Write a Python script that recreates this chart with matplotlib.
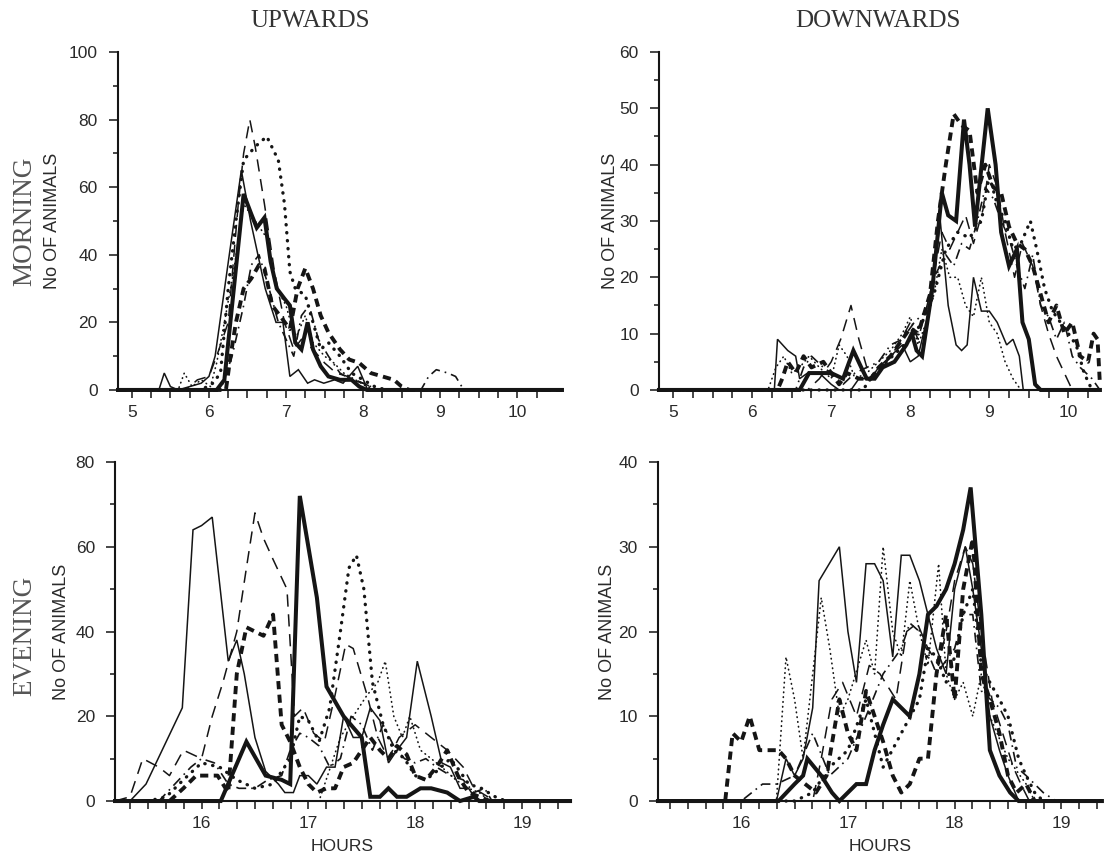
import numpy as np
import matplotlib.pyplot as plt

# values: hour of day, number of animals
# a = thin solid, b = thick solid, c = thin dashed, d = thick dashed,
# e = thick dotted, f = dash-dot, g = thin dotted

# --- upwards, morning
up_am_a_h = [4.82, 5.35, 5.42, 5.5, 5.6, 5.75, 5.9, 6.0, 6.08, 6.27, 6.42, 6.54, 6.73, 6.87, 6.96, 7.05, 7.16, 7.28, 7.37, 7.49, 7.63, 7.74, 7.93, 8.06, 10.58]
up_am_a_n = [0, 0, 5, 1, 0, 1, 2, 4, 10, 41, 65, 50, 30, 20, 20, 4, 6, 2, 3, 2, 3, 2, 7, 0, 0]
up_am_b_h = [4.82, 6.1, 6.2, 6.3, 6.45, 6.55, 6.62, 6.72, 6.8, 6.88, 6.98, 7.05, 7.12, 7.2, 7.28, 7.35, 7.45, 7.55, 7.7, 7.85, 7.95, 8.05, 10.58]
up_am_b_n = [0, 0, 3, 25, 58, 52, 48, 51, 38, 30, 27, 25, 14, 12, 20, 12, 7, 4, 3, 3, 1, 0, 0]
up_am_c_h = [4.82, 5.7, 5.85, 6.0, 6.1, 6.25, 6.38, 6.45, 6.53, 6.6, 6.72, 6.85, 6.98, 7.1, 7.2, 7.35, 7.5, 7.65, 7.8, 8.0, 8.2, 10.58]
up_am_c_n = [0, 0, 3, 4, 10, 20, 55, 70, 80, 72, 55, 35, 20, 12, 15, 12, 8, 5, 4, 2, 0, 0]
up_am_d_h = [4.82, 6.22, 6.28, 6.35, 6.45, 6.55, 6.65, 6.72, 6.82, 6.92, 7.05, 7.15, 7.25, 7.35, 7.45, 7.55, 7.7, 7.82, 7.95, 8.1, 8.25, 8.4, 8.5, 8.6, 10.58]
up_am_d_n = [0, 0, 10, 20, 30, 33, 37, 36, 25, 22, 18, 30, 36, 30, 22, 17, 12, 9, 8, 5, 4, 3, 1, 0, 0]
up_am_e_h = [4.82, 5.9, 6.05, 6.15, 6.25, 6.35, 6.45, 6.6, 6.75, 6.9, 6.98, 7.05, 7.12, 7.25, 7.35, 7.45, 7.55, 7.7, 7.85, 8.0, 8.15, 8.3, 10.58]
up_am_e_n = [0, 0, 2, 5, 30, 50, 68, 72, 75, 68, 55, 35, 30, 28, 20, 12, 14, 10, 5, 3, 1, 0, 0]
up_am_f_h = [4.82, 6.15, 6.3, 6.45, 6.55, 6.65, 6.78, 6.9, 7.0, 7.1, 7.2, 7.3, 7.42, 7.55, 7.7, 7.85, 8.0, 8.2, 8.75, 8.85, 8.95, 9.1, 9.2, 9.28, 9.35, 10.58]
up_am_f_n = [0, 0, 10, 25, 37, 40, 30, 20, 15, 10, 22, 25, 15, 10, 5, 3, 2, 0, 0, 4, 6, 5, 4, 1, 0, 0]
up_am_g_h = [4.82, 5.6, 5.68, 5.78, 5.9, 6.02, 6.1, 6.2, 6.32, 6.45, 6.6, 6.75, 6.88, 7.0, 7.12, 7.25, 7.35, 7.5, 7.62, 7.75, 7.9, 8.05, 8.2, 10.58]
up_am_g_n = [0, 0, 5, 1, 3, 1, 8, 20, 35, 55, 50, 45, 30, 25, 15, 22, 14, 10, 8, 5, 3, 1, 0, 0]

# --- downwards, morning
dn_am_a_h = [4.82, 6.28, 6.32, 6.45, 6.55, 6.6, 6.7, 6.85, 7.0, 7.1, 7.25, 7.35, 7.5, 7.6, 7.75, 7.9, 8.0, 8.1, 8.25, 8.38, 8.48, 8.58, 8.65, 8.72, 8.8, 8.9, 9.0, 9.1, 9.22, 9.3, 9.38, 9.43, 10.4]
dn_am_a_n = [0, 0, 9, 7, 6, 2, 3, 3, 1, 0, 0, 2, 2, 4, 6, 8, 5, 6, 15, 30, 15, 8, 7, 8, 20, 14, 14, 12, 8, 9, 6, 0, 0]
dn_am_b_h = [4.82, 6.6, 6.72, 6.85, 7.0, 7.15, 7.28, 7.38, 7.45, 7.55, 7.65, 7.8, 7.95, 8.02, 8.08, 8.15, 8.28, 8.4, 8.48, 8.58, 8.68, 8.75, 8.82, 8.98, 9.08, 9.15, 9.25, 9.35, 9.42, 9.5, 9.58, 9.65, 10.4]
dn_am_b_n = [0, 0, 3, 3, 3, 2, 7, 4, 2, 2, 4, 5, 8, 10, 7, 6, 18, 35, 31, 30, 48, 40, 29, 50, 40, 28, 22, 25, 12, 9, 1, 0, 0]
dn_am_c_h = [4.82, 6.7, 6.85, 7.0, 7.12, 7.25, 7.35, 7.45, 7.55, 7.7, 7.85, 8.0, 8.1, 8.25, 8.4, 8.5, 8.6, 8.7, 8.8, 8.92, 9.0, 9.1, 9.2, 9.32, 9.42, 9.55, 9.65, 9.75, 9.85, 9.95, 10.05, 10.4]
dn_am_c_n = [0, 0, 2, 5, 9, 15, 9, 4, 2, 5, 8, 12, 9, 17, 28, 25, 28, 31, 26, 32, 40, 36, 28, 20, 26, 22, 15, 10, 6, 3, 0, 0]
dn_am_d_h = [4.82, 6.32, 6.38, 6.45, 6.55, 6.65, 6.75, 6.9, 7.0, 7.1, 7.2, 7.35, 7.5, 7.6, 7.75, 7.9, 8.0, 8.1, 8.25, 8.35, 8.45, 8.55, 8.65, 8.75, 8.85, 8.95, 9.05, 9.15, 9.25, 9.35, 9.45, 9.55, 9.65, 9.75, 9.85, 9.95, 10.05, 10.15, 10.25, 10.32, 10.37, 10.4]
dn_am_d_n = [0, 0, 2, 5, 3, 6, 4, 5, 3, 1, 3, 2, 2, 4, 6, 9, 11, 10, 17, 30, 40, 49, 47, 46, 35, 40, 36, 35, 29, 26, 25, 22, 17, 12, 15, 10, 12, 6, 5, 10, 9, 1]
dn_am_e_h = [4.82, 7.4, 7.55, 7.7, 7.85, 8.0, 8.15, 8.3, 8.45, 8.6, 8.75, 8.9, 9.0, 9.1, 9.2, 9.3, 9.4, 9.52, 9.6, 9.7, 9.8, 9.9, 10.0, 10.1, 10.2, 10.3, 10.4]
dn_am_e_n = [0, 0, 3, 5, 7, 9, 12, 17, 25, 28, 27, 30, 38, 33, 30, 25, 26, 30, 25, 18, 14, 12, 10, 8, 3, 0, 0]
dn_am_f_h = [4.82, 6.55, 6.65, 6.75, 6.9, 7.0, 7.15, 7.3, 7.45, 7.6, 7.75, 7.9, 8.05, 8.2, 8.3, 8.45, 8.55, 8.65, 8.75, 8.85, 8.95, 9.05, 9.15, 9.25, 9.35, 9.45, 9.55, 9.65, 9.75, 9.85, 9.95, 10.05, 10.15, 10.3, 10.4]
dn_am_f_n = [0, 0, 4, 6, 4, 3, 1, 3, 4, 5, 8, 9, 12, 14, 20, 24, 22, 26, 25, 30, 36, 34, 30, 27, 22, 18, 24, 15, 13, 9, 12, 6, 4, 2, 0]
dn_am_g_h = [4.82, 6.2, 6.3, 6.4, 6.5, 6.6, 6.72, 6.85, 7.0, 7.1, 7.2, 7.3, 7.45, 7.6, 7.75, 7.9, 8.0, 8.1, 8.2, 8.3, 8.4, 8.5, 8.6, 8.7, 8.8, 8.9, 9.0, 9.1, 9.2, 9.3, 9.4, 10.4]
dn_am_g_n = [0, 0, 4, 6, 3, 4, 6, 4, 2, 8, 6, 2, 3, 5, 7, 10, 13, 8, 12, 17, 25, 20, 20, 15, 13, 20, 12, 10, 5, 2, 0, 0]

# --- upwards, evening
up_pm_a_h = [15.19, 15.33, 15.48, 15.82, 15.92, 16.0, 16.1, 16.25, 16.33, 16.4, 16.5, 16.6, 16.72, 16.78, 16.86, 16.92, 17.0, 17.08, 17.17, 17.25, 17.33, 17.42, 17.5, 17.58, 17.67, 17.75, 17.83, 17.92, 18.02, 18.15, 18.25, 18.33, 18.42, 18.5, 18.58, 19.45]
up_pm_a_n = [0, 0, 4, 22, 64, 65, 67, 33, 38, 30, 15, 7, 4, 2, 2, 6, 6, 4, 8, 8, 20, 15, 15, 22, 19, 9, 12, 15, 33, 20, 9, 8, 3, 3, 0, 0]
up_pm_b_h = [15.19, 16.18, 16.42, 16.6, 16.75, 16.83, 16.92, 17.08, 17.17, 17.33, 17.5, 17.58, 17.67, 17.75, 17.83, 17.92, 18.05, 18.15, 18.3, 18.42, 18.55, 18.6, 19.45]
up_pm_b_n = [0, 0, 14, 6, 5, 4, 72, 48, 27, 20, 15, 1, 1, 3, 1, 1, 3, 3, 2, 0, 1, 0, 0]
up_pm_c_h = [15.19, 15.33, 15.45, 15.6, 15.7, 15.83, 16.0, 16.1, 16.2, 16.33, 16.42, 16.5, 16.58, 16.67, 16.8, 16.87, 16.95, 17.05, 17.15, 17.25, 17.35, 17.42, 17.55, 17.65, 17.75, 17.85, 18.0, 18.1, 18.2, 18.3, 18.45, 18.55, 18.68, 18.75, 19.45]
up_pm_c_n = [0, 1, 10, 8, 6, 12, 10, 20, 28, 40, 55, 68, 62, 57, 50, 20, 22, 16, 14, 25, 37, 36, 25, 15, 10, 15, 18, 16, 14, 12, 8, 3, 1, 0, 0]
up_pm_d_h = [15.19, 15.7, 15.83, 15.95, 16.05, 16.15, 16.25, 16.33, 16.42, 16.5, 16.58, 16.67, 16.75, 16.83, 16.92, 17.0, 17.08, 17.17, 17.25, 17.33, 17.42, 17.5, 17.58, 17.67, 17.75, 17.83, 17.92, 18.0, 18.1, 18.2, 18.3, 18.4, 18.5, 18.6, 18.7, 19.45]
up_pm_d_n = [0, 0, 3, 6, 6, 6, 2, 30, 41, 40, 39, 44, 18, 14, 8, 4, 2, 3, 3, 8, 9, 12, 15, 12, 10, 13, 11, 6, 5, 8, 12, 6, 2, 1, 0, 0]
up_pm_e_h = [15.19, 15.5, 15.67, 15.83, 16.0, 16.17, 16.33, 16.5, 16.67, 16.83, 16.92, 17.0, 17.1, 17.2, 17.3, 17.38, 17.45, 17.52, 17.6, 17.7, 17.8, 17.9, 18.0, 18.1, 18.2, 18.33, 18.42, 18.5, 18.62, 18.75, 18.85, 19.45]
up_pm_e_n = [0, 0, 1, 5, 9, 8, 5, 3, 4, 10, 20, 19, 14, 22, 40, 55, 58, 50, 28, 18, 12, 10, 6, 5, 7, 10, 7, 4, 3, 1, 0, 0]
up_pm_f_h = [15.19, 15.6, 15.75, 15.9, 16.0, 16.12, 16.25, 16.35, 16.5, 16.62, 16.75, 16.83, 16.92, 17.0, 17.1, 17.2, 17.3, 17.4, 17.5, 17.6, 17.7, 17.8, 17.9, 18.0, 18.1, 18.2, 18.33, 18.45, 18.55, 18.65, 18.72, 19.45]
up_pm_f_n = [0, 0, 4, 8, 10, 9, 4, 3, 3, 5, 6, 12, 16, 15, 13, 8, 10, 20, 18, 12, 18, 13, 10, 9, 10, 8, 6, 5, 2, 3, 0, 0]
up_pm_g_h = [15.19, 17.1, 17.3, 17.42, 17.55, 17.65, 17.72, 17.8, 17.88, 17.95, 18.05, 18.15, 18.25, 18.38, 18.5, 18.6, 18.7, 19.45]
up_pm_g_n = [0, 0, 15, 20, 25, 28, 33, 20, 15, 20, 12, 10, 8, 5, 3, 2, 0, 0]

# --- downwards, evening
dn_pm_a_h = [15.22, 16.33, 16.42, 16.5, 16.58, 16.67, 16.73, 16.92, 17.0, 17.08, 17.17, 17.25, 17.33, 17.42, 17.5, 17.58, 17.67, 17.75, 17.83, 17.92, 18.0, 18.1, 18.17, 18.25, 18.33, 18.42, 18.5, 18.6, 19.38]
dn_pm_a_n = [0, 0, 5, 3, 5, 11, 26, 30, 20, 14, 28, 28, 26, 17, 29, 29, 26, 22, 18, 15, 25, 30, 25, 18, 10, 6, 3, 0, 0]
dn_pm_b_h = [15.22, 16.35, 16.5, 16.58, 16.62, 16.75, 16.85, 16.92, 17.08, 17.17, 17.25, 17.33, 17.42, 17.5, 17.58, 17.67, 17.75, 17.83, 17.92, 18.0, 18.08, 18.15, 18.25, 18.33, 18.42, 18.52, 18.6, 19.38]
dn_pm_b_n = [0, 0, 2, 3, 5, 3, 1, 0, 2, 2, 6, 9, 12, 11, 10, 15, 22, 23, 25, 28, 32, 37, 22, 6, 3, 1, 0, 0]
dn_pm_c_h = [15.22, 16.67, 16.75, 16.85, 16.95, 17.08, 17.2, 17.3, 17.45, 17.55, 17.65, 17.75, 17.85, 17.92, 18.0, 18.1, 18.17, 18.25, 18.35, 18.45, 18.55, 18.62, 18.7, 19.38]
dn_pm_c_n = [0, 0, 5, 12, 14, 10, 16, 15, 12, 20, 21, 18, 16, 20, 26, 30, 28, 20, 12, 8, 4, 2, 0, 0]
dn_pm_d_h = [15.22, 15.85, 15.92, 16.0, 16.08, 16.17, 16.25, 16.35, 16.42, 16.5, 16.6, 16.7, 16.8, 16.92, 17.0, 17.08, 17.17, 17.25, 17.33, 17.42, 17.5, 17.58, 17.67, 17.75, 17.83, 17.92, 18.0, 18.08, 18.17, 18.25, 18.33, 18.42, 18.5, 18.58, 18.67, 18.75, 19.38]
dn_pm_d_n = [0, 0, 8, 7, 10, 6, 6, 6, 5, 3, 2, 1, 3, 12, 8, 6, 13, 10, 7, 3, 1, 2, 5, 5, 15, 22, 12, 25, 31, 15, 12, 8, 3, 1, 2, 0, 0]
dn_pm_e_h = [15.22, 16.5, 16.67, 16.83, 17.0, 17.17, 17.33, 17.5, 17.67, 17.75, 17.83, 17.92, 18.0, 18.08, 18.17, 18.25, 18.33, 18.42, 18.5, 18.6, 18.67, 18.75, 18.83, 19.38]
dn_pm_e_n = [0, 0, 1, 4, 6, 12, 4, 8, 12, 18, 17, 14, 17, 22, 25, 16, 14, 12, 10, 5, 3, 1, 0, 0]
dn_pm_f_h = [15.22, 16.0, 16.1, 16.2, 16.33, 16.5, 16.67, 16.83, 17.0, 17.17, 17.33, 17.5, 17.58, 17.67, 17.83, 18.0, 18.08, 18.17, 18.25, 18.42, 18.5, 18.58, 18.67, 18.83, 18.95, 19.38]
dn_pm_f_n = [0, 0, 1, 2, 2, 3, 8, 3, 5, 10, 15, 18, 21, 20, 15, 18, 22, 22, 13, 11, 9, 4, 3, 1, 0, 0]
dn_pm_g_h = [15.22, 16.33, 16.42, 16.5, 16.58, 16.67, 16.75, 16.83, 16.92, 17.0, 17.17, 17.25, 17.33, 17.42, 17.5, 17.58, 17.67, 17.75, 17.85, 17.92, 18.0, 18.08, 18.17, 18.25, 18.33, 18.5, 18.67, 18.75, 19.38]
dn_pm_g_n = [0, 0, 17, 12, 5, 15, 24, 18, 10, 12, 19, 15, 30, 20, 17, 26, 20, 16, 28, 15, 12, 14, 10, 15, 10, 5, 2, 0, 0]

# line styles of the original (all black ink)
ink = '#151515'
styles = {
    'a': dict(lw=1.1, ls='-'),
    'b': dict(lw=2.9, ls='-'),
    'c': dict(lw=1.1, ls=(0, (8, 5))),
    'd': dict(lw=2.8, ls=(0, (2.1, 1.4))),
    'e': dict(lw=2.4, ls=(0, (0.1, 2.3)), dash_capstyle='round'),
    'f': dict(lw=1.2, ls=(0, (6, 3, 1, 3))),
    'g': dict(lw=1.2, ls=(0, (0.3, 2.6)), dash_capstyle='round'),
}

plt.rcParams['font.family'] = 'Liberation Sans'
fig = plt.figure(figsize=(11.06, 8.58), dpi=100)

# panel boxes (figure fraction)
ax_ul = fig.add_axes([0.1067, 0.5455, 0.4014, 0.3939])
ax_ur = fig.add_axes([0.5958, 0.5455, 0.3987, 0.3939])
ax_ll = fig.add_axes([0.1040, 0.0664, 0.4114, 0.3951])
ax_lr = fig.add_axes([0.5949, 0.0664, 0.4014, 0.3951])

panels = [
    (ax_ul, [('a', up_am_a_h, up_am_a_n), ('g', up_am_g_h, up_am_g_n), ('c', up_am_c_h, up_am_c_n),
             ('f', up_am_f_h, up_am_f_n), ('e', up_am_e_h, up_am_e_n), ('d', up_am_d_h, up_am_d_n),
             ('b', up_am_b_h, up_am_b_n)],
     (4.82, 10.58), 100, 20, np.arange(5, 10.3, 0.25), -0.128),
    (ax_ur, [('a', dn_am_a_h, dn_am_a_n), ('g', dn_am_g_h, dn_am_g_n), ('c', dn_am_c_h, dn_am_c_n),
             ('f', dn_am_f_h, dn_am_f_n), ('e', dn_am_e_h, dn_am_e_n), ('d', dn_am_d_h, dn_am_d_n),
             ('b', dn_am_b_h, dn_am_b_n)],
     (4.82, 10.4), 60, 10, np.arange(5, 10.3, 0.25), -0.091),
    (ax_ll, [('a', up_pm_a_h, up_pm_a_n), ('g', up_pm_g_h, up_pm_g_n), ('c', up_pm_c_h, up_pm_c_n),
             ('f', up_pm_f_h, up_pm_f_n), ('e', up_pm_e_h, up_pm_e_n), ('d', up_pm_d_h, up_pm_d_n),
             ('b', up_pm_b_h, up_pm_b_n)],
     (15.19, 19.45), 80, 20, 15 + np.arange(2, 27) / 6, -0.099),
    (ax_lr, [('a', dn_pm_a_h, dn_pm_a_n), ('g', dn_pm_g_h, dn_pm_g_n), ('c', dn_pm_c_h, dn_pm_c_n),
             ('f', dn_pm_f_h, dn_pm_f_n), ('e', dn_pm_e_h, dn_pm_e_n), ('d', dn_pm_d_h, dn_pm_d_n),
             ('b', dn_pm_b_h, dn_pm_b_n)],
     (15.22, 19.38), 40, 10, 15 + np.arange(2, 27) / 6, -0.095),
]

for ax, series, xlim, ytop, ystep, xminor, ylab_x in panels:
    for key, h, n in series:
        ax.plot(h, n, color=ink, clip_on=False, solid_joinstyle='miter', **styles[key])
    ax.set_xlim(*xlim)
    ax.set_ylim(0, ytop)
    for s in ['top', 'right']:
        ax.spines[s].set_visible(False)
    for s in ['left', 'bottom']:
        ax.spines[s].set_linewidth(1.5)
        ax.spines[s].set_color(ink)
    hours = np.arange(np.ceil(xlim[0]), np.floor(xlim[1]) + 1)
    ax.set_xticks(hours)
    ax.set_xticklabels(['%d' % v for v in hours])
    ax.set_xticks(xminor, minor=True)
    ax.set_yticks(np.arange(0, ytop + 1, ystep))
    ax.set_yticks(np.arange(ystep / 2, ytop, ystep), minor=True)
    ax.tick_params(axis='x', which='both', direction='out', length=5.5, width=1.1,
                   color=ink, pad=5, labelsize=12.5, labelcolor='#2a2a2a')
    ax.tick_params(axis='y', which='major', direction='out', length=6.5, width=1.1,
                   color=ink, pad=8, labelsize=12.5, labelcolor='#2a2a2a')
    ax.tick_params(axis='y', which='minor', direction='out', length=3.5, width=1.1, color=ink)
    ax.set_ylabel('No OF ANIMALS', fontsize=13, color='#2a2a2a')
    ax.yaxis.set_label_coords(ylab_x, 0.5)

for ax in [ax_ll, ax_lr]:
    ax.set_xlabel('HOURS', fontsize=12.6, color='#2a2a2a')
    ax.xaxis.set_label_coords(0.5, -0.112)

# column and row headings (serif, as in the original)
serif = 'Liberation Serif'
fig.text(310 / 1106, 1 - 21 / 858, 'UPWARDS', family=serif, fontsize=18, color='#333333', ha='center', va='center')
fig.text(878 / 1106, 1 - 21 / 858, 'DOWNWARDS', family=serif, fontsize=18, color='#333333', ha='center', va='center')
fig.text(25 / 1106, 1 - 221 / 858, 'MORNING', family=serif, fontsize=19.5, color='#555555',
         rotation=90, ha='center', va='center')
fig.text(25 / 1106, 1 - 636 / 858, 'EVENING', family=serif, fontsize=19.5, color='#555555',
         rotation=90, ha='center', va='center')

plt.savefig('out.png', dpi=100)
